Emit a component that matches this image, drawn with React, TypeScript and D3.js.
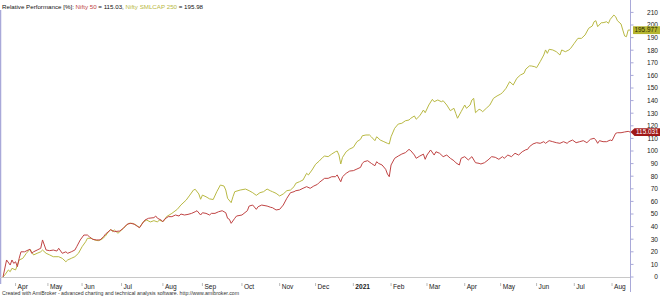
import React from "react";
import * as d3 from "d3";

// Relative performance (%) by trading session (session 0 = 23 Mar 2020)
const NIFTY_SESSION = [0,2,4,5,6,7,8,9,10,12,14,15,16,17,19,21,22,23,24,26,28,30,31,33,35,36,38,40,41,43,45,47,48,50,52,54,56,57,60,62,65,67,69,71,73,75,76,77,79,81,84,85,86,88,89,90,92,94,96,98,99,101,103,105,107,108,110,111,113,115,116,118,120,122,124,125,126,127,129,130,133,136,137,139,141,142,144,147,149,150,152,154,156,158,160,162,163,165,167,169,171,173,175,176,179,181,183,185,186,188,189,191,193,195,197,199,200,201,203,205,207,208,209,211,213,214,215,216,218,220,222,224,226,227,229,230,232,234,235,236,238,240,241,243,245,247,249,251,252,254,255,257,259,261,263,265,266,268,270,272,274,276,278,279,281,283,285,287,289,291,292,293,295,297,299,301,302,304,306,308,310,312,314,315,317,319,321,323,325,327,329,330,331,332,334,336,338,339,341,342,344,346,348,349];
const NIFTY_VALUE = [0,13.5,9.5,13.5,10.8,12.1,8.2,14.8,20,20,21.4,22,18.8,20,21.4,22.8,29.4,25.4,21.4,20.9,21.4,20.6,22.8,18.8,20,18.8,20,21.4,24,29.4,33.3,33.3,32,29.9,29.4,29.4,32,34,37.5,36,36.5,38.7,41.8,42.6,42,40,39.2,41.3,45.2,46.6,47.1,48.4,46.6,45.2,43.9,46,47.9,47.9,49.2,48.4,50,49.2,49.7,50.5,51.8,52.6,49.2,51,50.5,49.2,50.5,50.5,51.8,52.6,51,46.6,45.8,42.6,46.6,48.4,49.2,52.6,56.3,57.1,53.7,55.8,57.1,56.3,55.3,55,53.2,53.7,57.1,62.5,66.9,67.7,68.5,69,70.4,71.7,70.4,72.2,73.5,75,78.3,78.3,79.6,79.6,81,75.6,79.6,82.3,84.1,84.4,85.7,87,90.2,91.5,92.3,90.2,88.3,91.5,90.2,88.9,85.5,81.7,79.6,88.9,94.2,96,97.6,98.7,101.3,100.2,96.8,94.2,96,97.5,93.4,96.8,100.8,96.8,99.4,98.2,95.5,96.8,94.2,92.3,90.7,88.9,94.2,95.5,92.9,95.5,90.7,90.2,89.7,90.7,92.9,95.5,95,93.4,95.5,94.2,96.8,95.5,98.2,96.8,99.4,101,101.3,103.4,105.6,106.6,106.1,107.4,106.1,108.2,107.4,106.6,106.1,107.4,106.1,107.4,108.7,106.6,107.4,108.2,106.6,109.3,110.1,108.7,106.1,108.2,107.4,107.4,108.7,108.2,114,114.5,114.5,115.1,115.6,115.031];

const SMALL_SESSION = [0,1,3,4,5,7,8,9,11,13,15,16,17,19,21,22,24,26,28,31,33,35,36,38,40,42,44,46,47,49,51,53,55,57,59,60,61,62,64,66,68,70,72,74,76,78,80,82,84,86,87,89,90,91,94,97,99,102,104,106,107,109,110,111,113,115,117,119,121,123,124,125,127,128,129,132,135,137,139,141,143,145,147,149,150,152,154,156,158,160,162,163,165,167,169,170,172,174,176,178,179,181,183,185,186,187,188,189,191,193,195,197,199,200,202,204,205,207,208,210,212,214,215,216,218,220,222,224,226,227,229,230,232,234,235,237,239,240,242,244,245,247,249,251,252,253,255,257,258,260,261,262,263,265,266,267,269,271,273,275,277,278,280,282,284,286,288,290,291,293,294,296,297,299,301,302,303,304,306,308,310,311,313,315,316,318,320,322,324,326,328,329,330,331,333,334,336,337,338,340,341,342,344,345,346,347,348,349];
const SMALL_VALUE = [0,1.6,5.6,4.2,6.9,5.6,9.5,13.5,14.8,18.8,22,20,17.5,18.8,20,21.4,18.8,17.5,16.1,16.1,14.8,12.1,13.5,14.8,16.1,18.8,24,28,30.7,30.7,29.4,28.8,29.9,32.5,36.5,37.8,36,37.3,34.7,37.3,40,42.6,42.6,41.3,39.2,43.7,45.2,43.7,44.7,43.7,45.2,43.9,45.5,47.9,50.5,53.7,57.1,61.1,65,69,69.6,65.9,61.7,65,63.7,62,61.5,67.7,73,72.2,69,62.5,59,63.7,67.7,69,69.8,68.5,66.9,64.8,66.9,67.7,69.8,68.3,67.7,66.4,64.3,65.9,68.5,69,71.7,74.4,75.6,77,82.3,81,84.9,89.5,92,95,96,95.5,97.6,99.4,100,96.8,89.7,95,99.4,101.6,102.9,107.4,109.3,112.1,112.7,112.7,111.3,108.2,111.3,108.7,107.4,106.1,105.6,111.3,118,121.4,122,124,124.6,126,127.8,125.2,128,132.5,130.4,136.5,141,139.1,140.5,139.1,139.9,136.5,132,133.9,129.9,126,131.2,136.5,133.9,136.5,140.5,141.8,130.4,133.1,132.5,131.2,133.9,136.5,141.8,143.7,145.2,146.3,149.8,155,152.4,157.7,160.3,161.7,165,167.5,167.5,166.9,166.1,170.9,176.2,180.2,177.5,180.7,180.2,178.8,176.2,180.2,178.8,180.2,181.5,185.5,189.4,189.4,192.1,197.4,199.2,202.6,203.4,198.7,201.8,201.8,202.6,201.3,204.5,207.9,206.6,203.4,200.8,196,191.3,190.7,196,195.977];

const MONTH_LABELS = ["Apr","May","Jun","Jul","Aug","Sep","Oct","Nov","Dec","2021","Feb","Mar","Apr","May","Jun","Jul","Aug"];
const MONTH_SESSION = [7,25,44,66,89,111,133,154,174,195,216,236,257,277,297,318,339];
const Y_TICKS = [0,10,20,30,40,50,60,70,80,90,100,110,120,130,140,150,160,170,180,190,200,210];

const LAST_SESSION = 349;
const NIFTY_LAST = 115.031;
const SMALL_LAST = 195.977;

const W = 660, H = 296;
const RED = "#c04444";
const OLIVE = "#b9b944";
const AXIS = "#a9a9d9";
const FONT = "Liberation Sans, Arial, sans-serif";

export default function App() {
  const x = d3.scaleLinear().domain([0, LAST_SESSION]).range([3, 630]);
  const y = d3.scaleLinear().domain([0, 210]).range([277, 12.4]);

  const line = d3
    .line<[number, number]>()
    .x((d) => x(d[0]))
    .y((d) => y(d[1]));

  const nifty = NIFTY_SESSION.map((s, i) => [s, NIFTY_VALUE[i]] as [number, number]);
  const small = SMALL_SESSION.map((s, i) => [s, SMALL_VALUE[i]] as [number, number]);

  const axisX = 630.5;
  const yr = y(NIFTY_LAST);
  const yo = y(SMALL_LAST);

  return (
    <svg
      width={W}
      height={H}
      style={{ position: "fixed", left: 0, top: 0, background: "#fff" }}
      fontFamily={FONT}
    >
      <rect x={0} y={0} width={W} height={H} fill="#fff" />
      {/* left border */}
      <line x1={0.5} x2={0.5} y1={10} y2={284} stroke={AXIS} strokeWidth={1.5} />
      {/* bottom line */}
      <line x1={0} x2={axisX} y1={277.5} y2={277.5} stroke="#c8c8c8" strokeWidth={1} />
      {/* right axis */}
      <line x1={axisX} x2={axisX} y1={0} y2={292} stroke={AXIS} strokeWidth={1} />
      {Y_TICKS.map((t) => (
        <g key={t}>
          <line x1={axisX} x2={axisX + 3} y1={y(t)} y2={y(t)} stroke={AXIS} strokeWidth={1} />
          <text x={658} y={y(t) + 2.4} fontSize={6.6} textAnchor="end" fill="#222">
            {t}
          </text>
        </g>
      ))}
      {/* month ticks */}
      {MONTH_LABELS.map((m, i) => {
        const px = x(MONTH_SESSION[i]);
        return (
          <g key={i}>
            <line x1={px} x2={px} y1={283} y2={286} stroke="#bbbbbb" strokeWidth={1} />
            <text x={px + 2} y={289} fontSize={6.6} fill="#222" fontWeight={m === "2021" ? "bold" : "normal"}>
              {m}
            </text>
          </g>
        );
      })}
      {/* series */}
      <path d={line(small) || ""} fill="none" stroke={OLIVE} strokeWidth={1} />
      <path d={line(nifty) || ""} fill="none" stroke={RED} strokeWidth={1} />
      {/* value tags */}
      <g>
        <rect x={633} y={yo - 3.8} width={27} height={7.8} fill="#b5b530" />
        <text x={634.5} y={yo + 2.3} fontSize={6.4} fill="#2a2a00">
          {SMALL_LAST.toFixed(3)}
        </text>
      </g>
      <g>
        <path
          d={`M${axisX},${yr} L${axisX + 4},${yr - 3.9} L660,${yr - 3.9} L660,${yr + 3.9} L${axisX + 4},${yr + 3.9} Z`}
          fill="#a01818"
        />
        <text x={636} y={yr + 2.3} fontSize={6.4} fill="#fff">
          {NIFTY_LAST.toFixed(3)}
        </text>
      </g>
      {/* title */}
      <text x={2} y={8.5} fontSize={6.2} fill="#111">
        <tspan>Relative Performance [%]: </tspan>
        <tspan fill={RED}>Nifty 50</tspan>
        <tspan> = 115.03, </tspan>
        <tspan fill={OLIVE}>Nifty SMLCAP 250</tspan>
        <tspan> = 195.98</tspan>
      </text>
      {/* footer */}
      <text x={2} y={295} fontSize={5.2} fill="#333">
        Created with AmiBroker - advanced charting and technical analysis software. http://www.amibroker.com
      </text>
    </svg>
  );
}
